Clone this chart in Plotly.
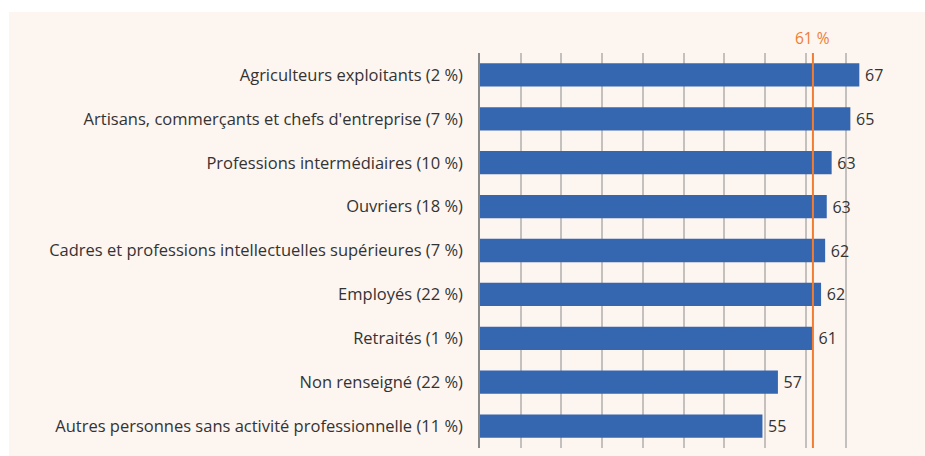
import plotly.graph_objects as go

categories = [
    "Agriculteurs exploitants (2 %)",
    "Artisans, commerçants et chefs d'entreprise (7 %)",
    "Professions intermédiaires (10 %)",
    "Ouvriers (18 %)",
    "Cadres et professions intellectuelles supérieures (7 %)",
    "Employés (22 %)",
    "Retraités (1 %)",
    "Non renseigné (22 %)",
    "Autres personnes sans activité professionnelle (11 %)",
]
values = [66.6, 65.5, 63.2, 62.6, 62.4, 61.9, 60.9, 56.6, 54.7]
value_labels = ["67", "65", "63", "63", "62", "62", "61", "57", "55"]
average = 60.9
average_label = "61 %"

FONT = "Open Sans"
BLUE = "#3566b0"
ORANGE = "#f07d32"
BG = "#fdf5f0"

W, H = 925, 456
L, R, T, B = 480, 38, 53, 8
PW, PH = W - L - R, H - T - B

fig = go.Figure()
fig.add_trace(go.Bar(
    x=values, y=categories, orientation="h",
    marker=dict(color=BLUE, line=dict(width=0)),
    text=value_labels, texttemplate="\u2009%{text}", textposition="outside",
    textfont=dict(family=FONT, size=16, color="#333333"),
    cliponaxis=False,
    hoverinfo="skip",
))

# white strips above / left of the cream panel (paper is cream)
fig.add_shape(type="rect", xref="paper", yref="paper",
              x0=-(L + 20) / PW, x1=(W - L + 20) / PW,
              y0=(H - B - 12) / PH, y1=(H - B + 20) / PH,
              fillcolor="white", line=dict(width=0), layer="below")
fig.add_shape(type="rect", xref="paper", yref="paper",
              x0=-(L + 20) / PW, x1=(9 - L) / PW,
              y0=-(B + 20) / PH, y1=(H - B + 20) / PH,
              fillcolor="white", line=dict(width=0), layer="below")

fig.add_shape(type="line", xref="x", yref="paper", x0=average, x1=average, y0=0, y1=1,
              line=dict(color=ORANGE, width=2), layer="above")
fig.add_annotation(x=average, y=1, xref="x", yref="paper", text=average_label,
                   showarrow=False, yanchor="bottom", yshift=2,
                   font=dict(family=FONT, size=15.5, color=ORANGE))

fig.update_layout(
    width=W, height=H,
    margin=dict(l=L, r=R, t=T, b=B),
    paper_bgcolor=BG, plot_bgcolor="rgba(0,0,0,0)",
    showlegend=False, bargap=0.47,
    font=dict(family=FONT, size=16.5, color="#333333"),
)
fig.update_xaxes(range=[20, 70], tick0=20, dtick=5, showticklabels=False,
                 showgrid=True, gridcolor="#c4c0bd", gridwidth=1.5, zeroline=False,
                 showline=False, fixedrange=True)
fig.update_yaxes(autorange="reversed", showgrid=False, showline=True,
                 linecolor="#8a8a8a", linewidth=1.5, ticks="", ticklabelstandoff=12,
                 tickfont=dict(family=FONT, size=16.5, color="#333333"), fixedrange=True)

fig.write_html(
    "out.html",
    config={"displayModeBar": False},
    post_script="document.body.style.margin='0';document.body.style.overflow='hidden';",
)
